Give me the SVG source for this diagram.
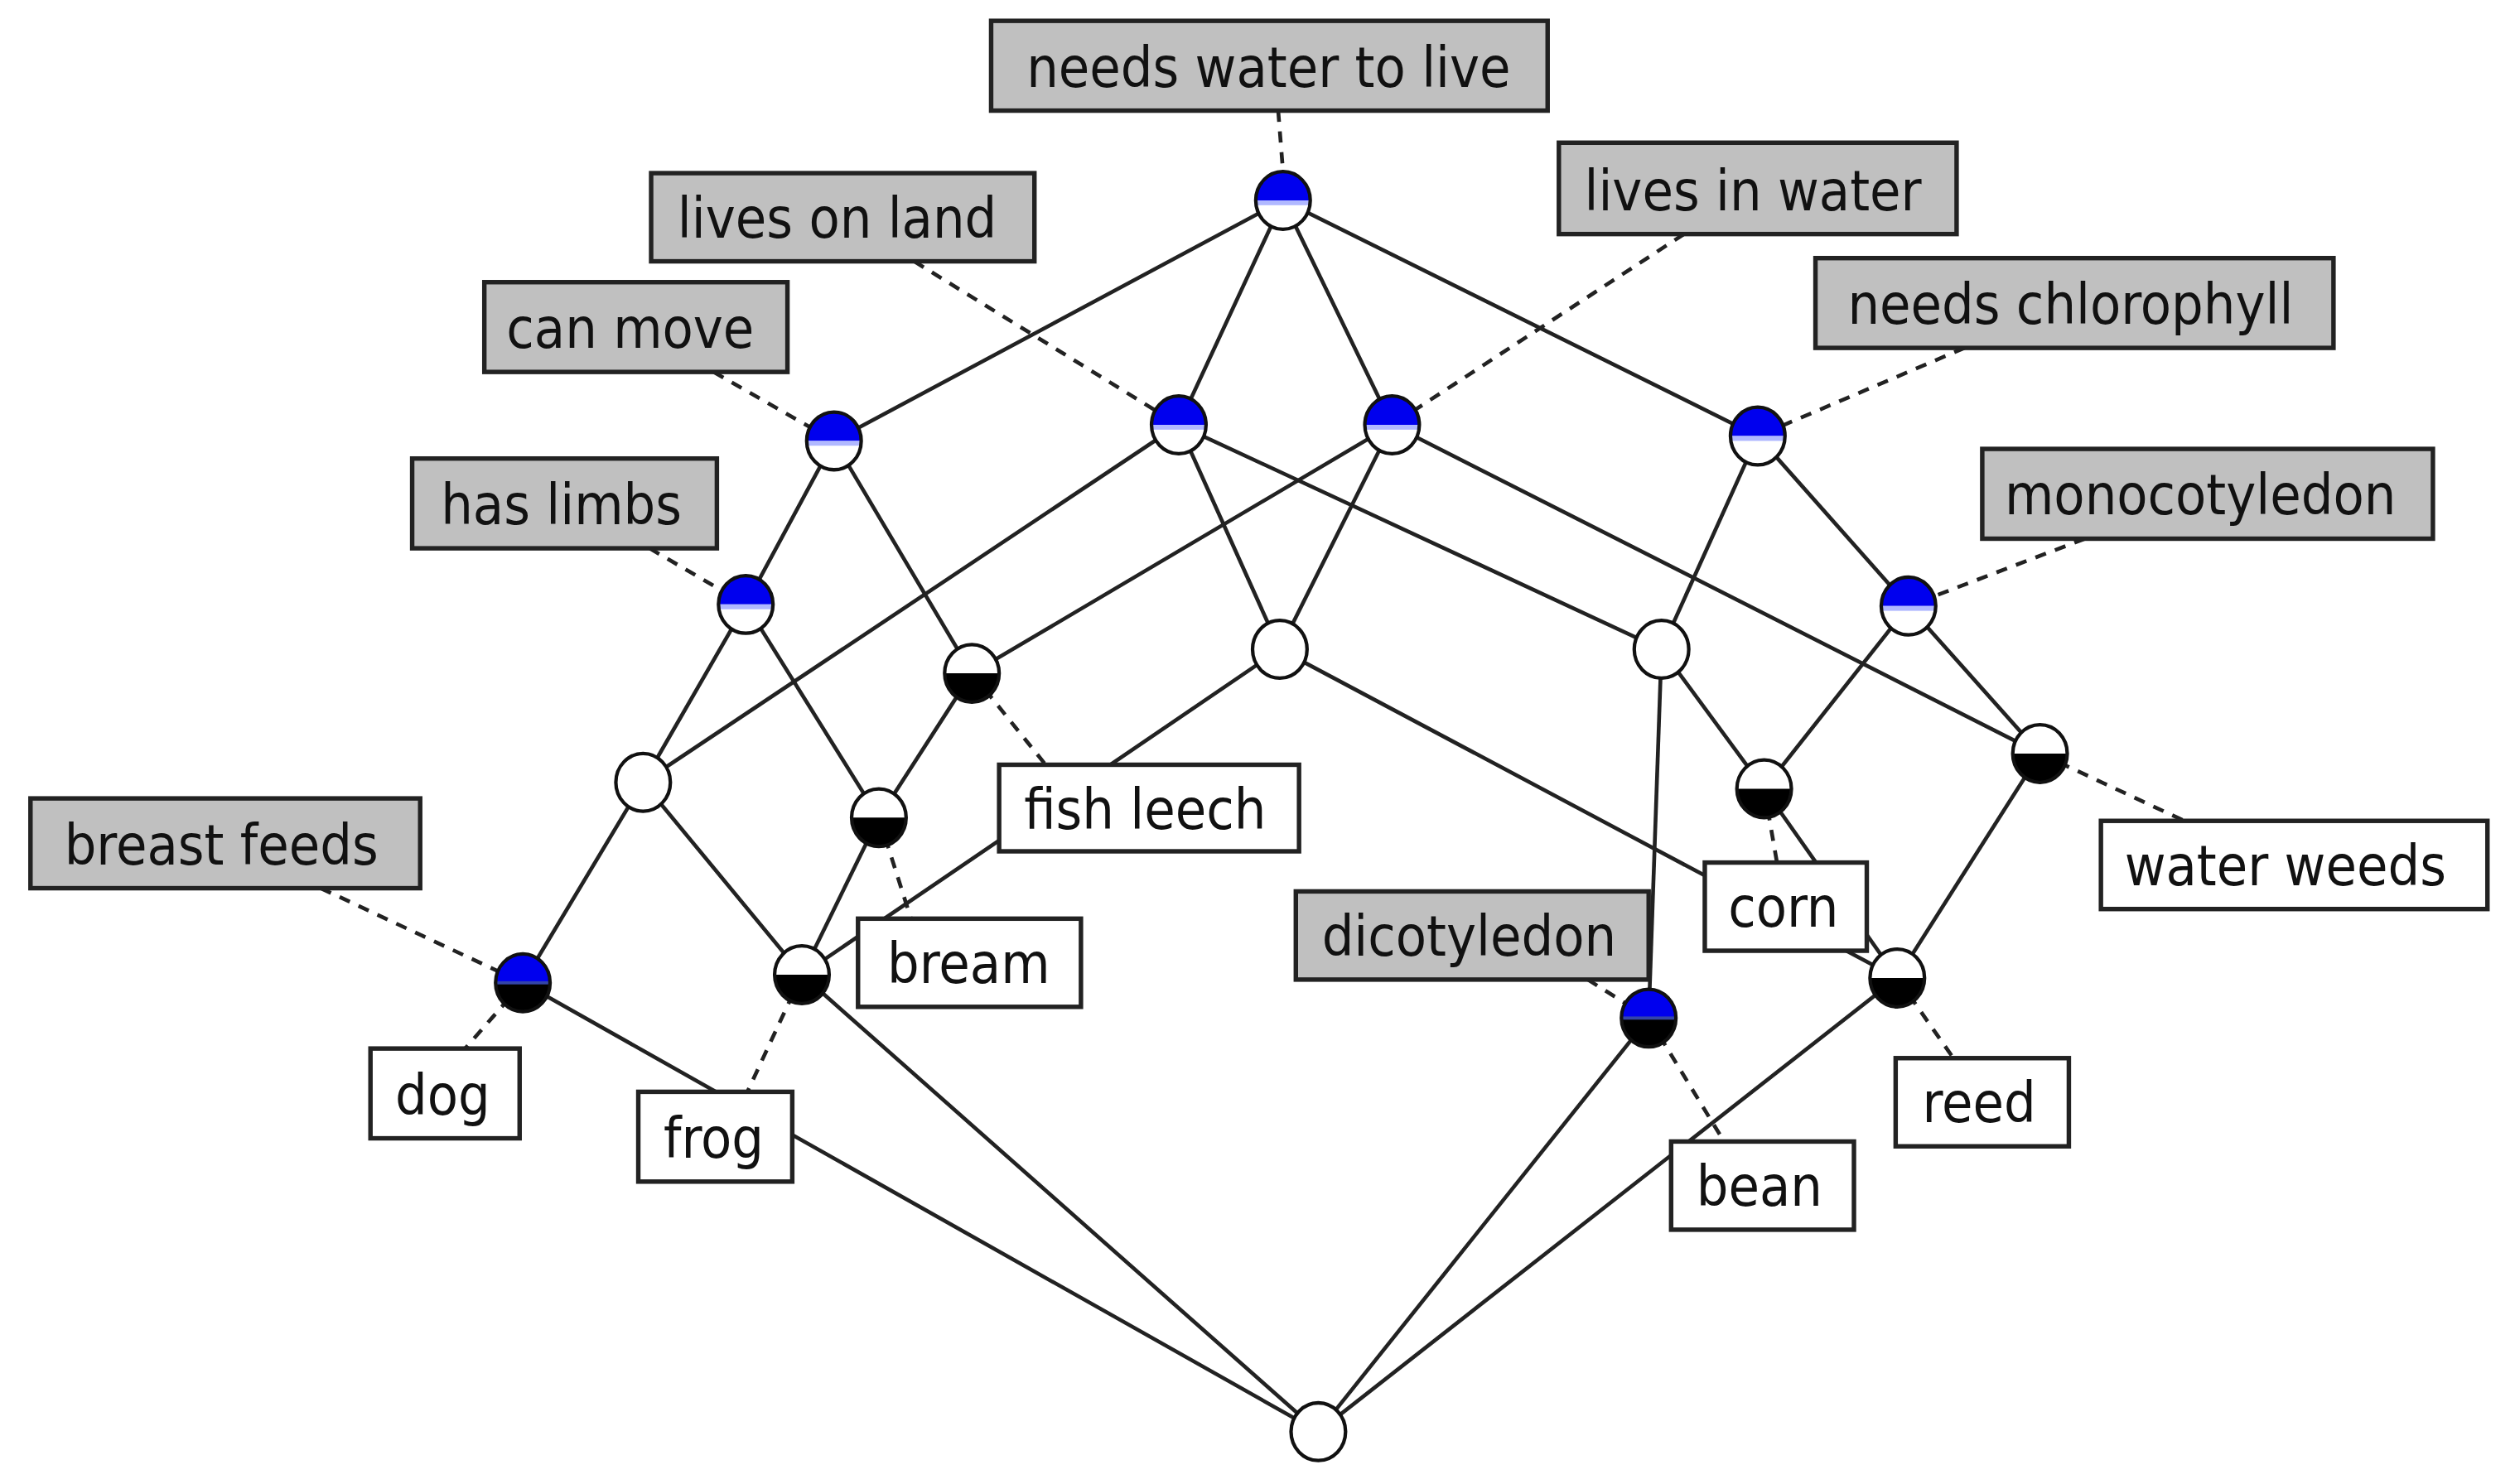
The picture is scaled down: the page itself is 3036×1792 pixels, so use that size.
<svg xmlns="http://www.w3.org/2000/svg" xmlns:xlink="http://www.w3.org/1999/xlink" width="3036" height="1792" viewBox="0 0 3036 1792">
<style>
.e{stroke:#222;stroke-width:2.4;fill:none}
.d{stroke:#222;stroke-width:2.4;fill:none;stroke-dasharray:7 6}
.ba{fill:#c0c0c0;stroke:#222;stroke-width:2.8}
.bo{fill:#fff;stroke:#222;stroke-width:2.8}
.t{font-family:"DejaVu Sans Condensed","DejaVu Sans",sans-serif;font-size:35px;fill:#111;text-anchor:middle}
</style>
<defs>
<g id="empty"><ellipse rx="17" ry="18" fill="#fff" stroke="#111" stroke-width="2.2"/></g>
<g id="attr"><ellipse rx="17" ry="18" fill="#fff"/><path d="M-17,0 A17,18 0 0 1 17,0 Z" fill="#0000ee"/><rect x="-17" y="0" width="34" height="3" fill="#b0b8ff"/><ellipse rx="17" ry="18" fill="none" stroke="#111" stroke-width="2.2"/></g>
<g id="obj"><ellipse rx="17" ry="18" fill="#fff"/><path d="M-17,0 A17,18 0 0 0 17,0 Z" fill="#000"/><ellipse rx="17" ry="18" fill="none" stroke="#111" stroke-width="2.2"/></g>
<g id="both"><path d="M-17,0 A17,18 0 0 1 17,0 Z" fill="#0000ee"/><path d="M-17,0 A17,18 0 0 0 17,0 Z" fill="#000"/><rect x="-17" y="-1" width="34" height="2" fill="#3344aa"/><ellipse rx="17" ry="18" fill="none" stroke="#111" stroke-width="2.2"/></g>
</defs>
<rect width="3036" height="1792" fill="#fff"/>
<g transform="scale(1.936)">
<g id="connectors">
<line class="e" x1="800" y1="125" x2="520" y2="275"/>
<line class="e" x1="800" y1="125" x2="735" y2="265"/>
<line class="e" x1="800" y1="125" x2="868" y2="265"/>
<line class="e" x1="800" y1="125" x2="1096" y2="272"/>
<line class="e" x1="520" y1="275" x2="465" y2="377"/>
<line class="e" x1="520" y1="275" x2="606" y2="420"/>
<line class="e" x1="735" y1="265" x2="401" y2="488"/>
<line class="e" x1="735" y1="265" x2="798" y2="405"/>
<line class="e" x1="735" y1="265" x2="1036" y2="405"/>
<line class="e" x1="868" y1="265" x2="606" y2="420"/>
<line class="e" x1="868" y1="265" x2="798" y2="405"/>
<line class="e" x1="868" y1="265" x2="1272" y2="470"/>
<line class="e" x1="1096" y1="272" x2="1036" y2="405"/>
<line class="e" x1="1096" y1="272" x2="1190" y2="378"/>
<line class="e" x1="465" y1="377" x2="401" y2="488"/>
<line class="e" x1="465" y1="377" x2="548" y2="510"/>
<line class="e" x1="606" y1="420" x2="548" y2="510"/>
<line class="e" x1="401" y1="488" x2="326" y2="613"/>
<line class="e" x1="401" y1="488" x2="500" y2="608"/>
<line class="e" x1="548" y1="510" x2="500" y2="608"/>
<line class="e" x1="798" y1="405" x2="500" y2="608"/>
<line class="e" x1="798" y1="405" x2="1183" y2="610"/>
<line class="e" x1="1036" y1="405" x2="1028" y2="635"/>
<line class="e" x1="1036" y1="405" x2="1100" y2="492"/>
<line class="e" x1="1190" y1="378" x2="1100" y2="492"/>
<line class="e" x1="1190" y1="378" x2="1272" y2="470"/>
<line class="e" x1="1100" y1="492" x2="1183" y2="610"/>
<line class="e" x1="1272" y1="470" x2="1183" y2="610"/>
<line class="e" x1="326" y1="613" x2="822" y2="893"/>
<line class="e" x1="500" y1="608" x2="822" y2="893"/>
<line class="e" x1="1028" y1="635" x2="822" y2="893"/>
<line class="e" x1="1183" y1="610" x2="822" y2="893"/>
<line class="d" x1="797" y1="69" x2="800" y2="107"/>
<line class="d" x1="570" y1="163" x2="735" y2="265"/>
<line class="d" x1="445" y1="232" x2="520" y2="275"/>
<line class="d" x1="405" y1="342" x2="465" y2="377"/>
<line class="d" x1="200" y1="554" x2="326" y2="613"/>
<line class="d" x1="1050" y1="146" x2="868" y2="265"/>
<line class="d" x1="1225" y1="217" x2="1096" y2="272"/>
<line class="d" x1="1300" y1="336" x2="1190" y2="378"/>
<line class="d" x1="990" y1="611" x2="1028" y2="635"/>
<line class="d" x1="606" y1="420" x2="652" y2="477"/>
<line class="d" x1="548" y1="510" x2="568" y2="573"/>
<line class="d" x1="326" y1="613" x2="290" y2="654"/>
<line class="d" x1="500" y1="608" x2="466" y2="681"/>
<line class="d" x1="1100" y1="492" x2="1108" y2="538"/>
<line class="d" x1="1272" y1="470" x2="1362" y2="512"/>
<line class="d" x1="1183" y1="610" x2="1218" y2="660"/>
<line class="d" x1="1028" y1="635" x2="1075" y2="712"/>
</g>
<g id="n_top" transform="translate(800,125)"><use href="#attr"/></g>
<g id="n_canmove" transform="translate(520,275)"><use href="#attr"/></g>
<g id="n_land" transform="translate(735,265)"><use href="#attr"/></g>
<g id="n_water" transform="translate(868,265)"><use href="#attr"/></g>
<g id="n_chloro" transform="translate(1096,272)"><use href="#attr"/></g>
<g id="n_limbs" transform="translate(465,377)"><use href="#attr"/></g>
<g id="n_mono" transform="translate(1190,378)"><use href="#attr"/></g>
<g id="n_fish" transform="translate(606,420)"><use href="#obj"/></g>
<g id="n_mid1" transform="translate(798,405)"><use href="#empty"/></g>
<g id="n_mid2" transform="translate(1036,405)"><use href="#empty"/></g>
<g id="n_left" transform="translate(401,488)"><use href="#empty"/></g>
<g id="n_bream" transform="translate(548,510)"><use href="#obj"/></g>
<g id="n_corn" transform="translate(1100,492)"><use href="#obj"/></g>
<g id="n_weeds" transform="translate(1272,470)"><use href="#obj"/></g>
<g id="n_dog" transform="translate(326,613)"><use href="#both"/></g>
<g id="n_frog" transform="translate(500,608)"><use href="#obj"/></g>
<g id="n_dico" transform="translate(1028,635)"><use href="#both"/></g>
<g id="n_reed" transform="translate(1183,610)"><use href="#obj"/></g>
<g id="n_bottom" transform="translate(822,893)"><use href="#empty"/></g>

<g id="l_water"><rect class="ba" x="618" y="13" width="347" height="56"/><text class="t" x="791" y="54">needs water to live</text></g>
<g id="l_land"><rect class="ba" x="406" y="108" width="239" height="55"/><text class="t" x="522" y="148">lives on land</text></g>
<g id="l_move"><rect class="ba" x="302" y="176" width="189" height="56"/><text class="t" x="393" y="217">can move</text></g>
<g id="l_limbs"><rect class="ba" x="257" y="286" width="190" height="56"/><text class="t" x="350" y="327">has limbs</text></g>
<g id="l_breast"><rect class="ba" x="19" y="498" width="243" height="56"/><text class="t" x="138" y="539">breast feeds</text></g>
<g id="l_inwater"><rect class="ba" x="972" y="89" width="248" height="57"/><text class="t" x="1093" y="131">lives in water</text></g>
<g id="l_chloro"><rect class="ba" x="1132" y="161" width="323" height="56"/><text class="t" x="1291" y="202">needs chlorophyll</text></g>
<g id="l_mono"><rect class="ba" x="1236" y="280" width="281" height="56"/><text class="t" x="1372" y="321">monocotyledon</text></g>
<g id="l_dico"><rect class="ba" x="808" y="556" width="220" height="55"/><text class="t" x="916" y="596">dicotyledon</text></g>
<g id="o_fish"><rect class="bo" x="623" y="477" width="187" height="54"/><text class="t" x="714" y="517">fish leech</text></g>
<g id="o_bream"><rect class="bo" x="535" y="573" width="139" height="55"/><text class="t" x="604" y="613">bream</text></g>
<g id="o_dog"><rect class="bo" x="231" y="654" width="93" height="56"/><text class="t" x="276" y="695">dog</text></g>
<g id="o_frog"><rect class="bo" x="398" y="681" width="96" height="56"/><text class="t" x="445" y="722">frog</text></g>
<g id="o_corn"><rect class="bo" x="1063" y="538" width="101" height="55"/><text class="t" x="1112" y="578">corn</text></g>
<g id="o_weeds"><rect class="bo" x="1310" y="512" width="241" height="55"/><text class="t" x="1425" y="552">water weeds</text></g>
<g id="o_reed"><rect class="bo" x="1182" y="660" width="108" height="55"/><text class="t" x="1234" y="700">reed</text></g>
<g id="o_bean"><rect class="bo" x="1042" y="712" width="114" height="55"/><text class="t" x="1097" y="752">bean</text></g>
</g>
</svg>
